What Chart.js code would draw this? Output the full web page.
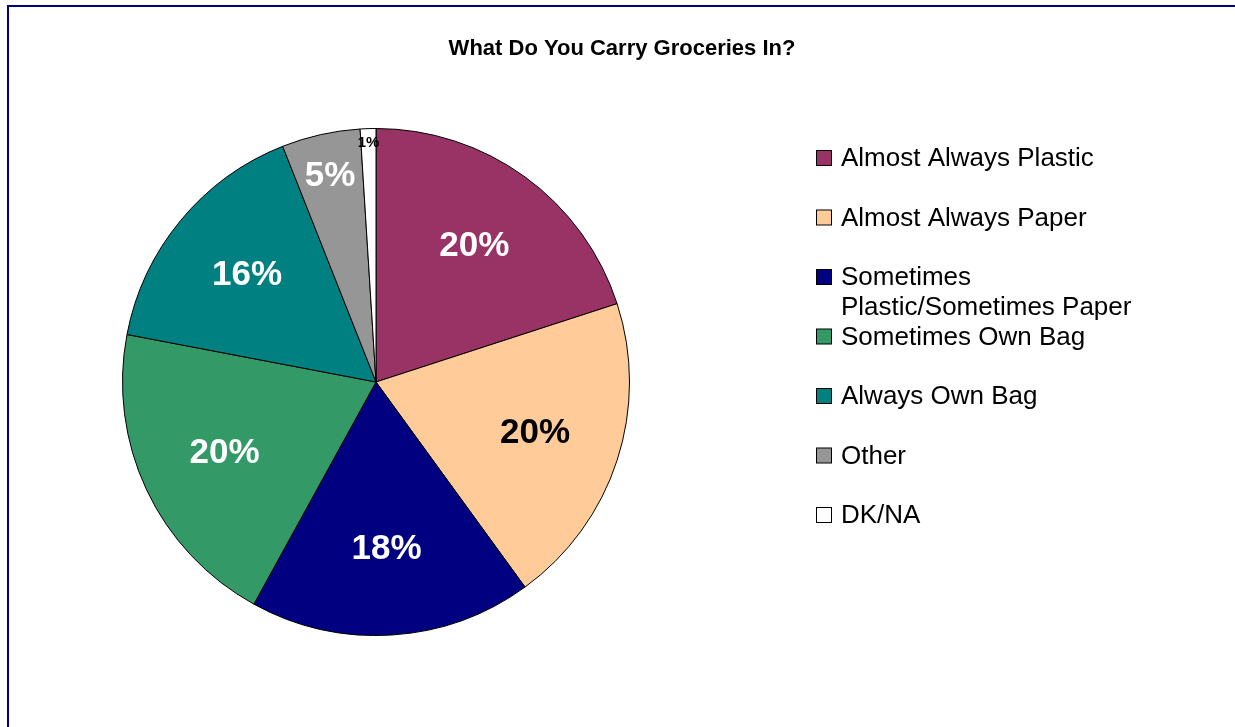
<!DOCTYPE html>
<html>
<head>
<meta charset="utf-8">
<title>What Do You Carry Groceries In?</title>
<script src="https://cdn.jsdelivr.net/npm/chart.js@4/dist/chart.umd.min.js"></script>
<style>
html,body{margin:0;padding:0;background:#fff;overflow:hidden;}
#wrap{position:relative;width:1235px;height:727px;}
#frame{position:absolute;left:7px;top:5px;width:1300px;height:800px;border-left:2px solid #000080;border-top:2px solid #000080;}
#chartCanvas{position:absolute;left:0;top:0;}
</style>
</head>
<body>
<div id="wrap">
<div id="frame"></div>
<canvas id="chartCanvas" width="1235" height="727"></canvas>
</div>

<script>

const categories = [
"Almost Always Plastic",
"Almost Always Paper",
"Sometimes Plastic/Sometimes Paper",
"Sometimes Own Bag",
"Always Own Bag",
"Other",
"DK/NA"
];

const shares = [20, 20, 18, 20, 16, 5, 1];

const sliceColors = ["#993366","#FFCC99","#000080","#339966","#008080","#969696","#FFFFFF"];

const labelColors = ["#fff","#000","#fff","#fff","#fff","#fff","#000"];

const chartTitle = "What Do You Carry Groceries In?";

const FONT = "'Liberation Sans', Arial, Helvetica, sans-serif";


// title, slice percentages and the right-hand legend
const extras = {

id:"extras",

afterDraw(chart){

const ctx = chart.ctx;

ctx.save();

ctx.fillStyle = "#000";
ctx.font = "bold 22px " + FONT;
ctx.textAlign = "center";
ctx.textBaseline = "middle";
ctx.fillText(chartTitle, 622, 49);

// percentage labels, small slices pushed outward
const arcs = chart.getDatasetMeta(0).data;

arcs.forEach((arc, i) => {

const p = arc.getProps(["x","y","startAngle","endAngle","outerRadius"], true);
const mid = (p.startAngle + p.endAngle) / 2;

let k = 0.66;
let size = 35;
if(shares[i] < 10){ k = 0.83; }
if(shares[i] < 3){ k = 0.945; size = 15; }

const r = p.outerRadius * k;

ctx.fillStyle = labelColors[i];
ctx.font = "bold " + size + "px " + FONT;
ctx.fillText(shares[i] + "%", p.x + Math.cos(mid) * r, p.y + Math.sin(mid) * r);

});

// legend
ctx.font = "26px " + FONT;
ctx.textAlign = "left";

const maxW = 300;

categories.forEach((name, i) => {

const y = 158 + 59.5 * i;

ctx.fillStyle = sliceColors[i];
ctx.fillRect(816.5, y - 7.5, 15, 15);
ctx.strokeStyle = "#000";
ctx.lineWidth = 1;
ctx.strokeRect(816.5, y - 7.5, 15, 15);

// wrap long names
const words = name.split(" ");
const lines = [];
let line = "";

words.forEach(w => {
const test = line ? line + " " + w : w;
if(ctx.measureText(test).width > maxW && line){
lines.push(line);
line = w;
}else{
line = test;
}
});
lines.push(line);

ctx.fillStyle = "#000";
lines.forEach((t, j) => {
ctx.fillText(t, 841, y + 1 + j * 30);
});

});

ctx.restore();

}

};


const chart = new Chart(document.getElementById("chartCanvas"), {

type:"pie",

data:{
labels:categories,
datasets:[{
data:shares,
backgroundColor:sliceColors,
borderColor:"#000",
borderWidth:1
}]
},

options:{
responsive:false,
animation:false,
layout:{
padding:{left:122, top:128, right:605, bottom:91}
},
plugins:{
legend:{display:false},
title:{display:false},
tooltip:{enabled:false}
}
},

plugins:[extras]

});

</script>
</body>
</html>
